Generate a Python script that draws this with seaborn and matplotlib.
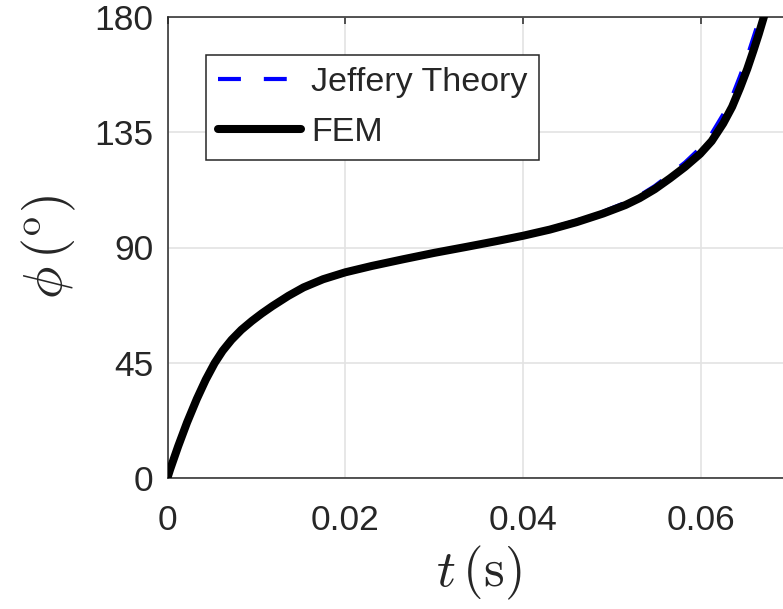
import matplotlib
matplotlib.use("Agg")
import matplotlib.pyplot as plt
import seaborn as sns
import pandas as pd

# ---- data ----
t_s = [0, 0.0003, 0.0012, 0.0022, 0.0033, 0.0043, 0.0053, 0.0062, 0.0072,
       0.0083, 0.0095, 0.0106, 0.0118, 0.0136, 0.0153, 0.0175, 0.0200,
       0.0230, 0.0265, 0.0300, 0.0337, 0.0370, 0.0400, 0.0430, 0.0460,
       0.0490, 0.0515, 0.0531, 0.0548, 0.0565, 0.0582, 0.0599, 0.0612,
       0.0625, 0.0635, 0.0644, 0.0652, 0.0659, 0.0665, 0.0671, 0.0677]
phi_fem = [0, 3.3, 12.3, 21.6, 30.8, 38.3, 44.8, 49.6, 53.9,
           57.8, 61.3, 64.2, 67.1, 71.1, 74.4, 77.6, 80.3,
           82.8, 85.4, 87.9, 90.3, 92.5, 94.6, 97.0, 99.9,
           103.3, 106.6, 109.3, 112.8, 117.0, 121.5, 126.6, 131.6,
           138.5, 145.0, 152.5, 159.8, 167.0, 173.5, 180.5, 187.0]
phi_jeffery = [0, 3.3, 12.3, 21.6, 30.8, 38.3, 44.8, 49.6, 53.9,
               57.8, 61.3, 64.2, 67.1, 71.1, 74.4, 77.6, 80.3,
               82.8, 85.4, 88.0, 90.5, 92.8, 95.0, 97.5, 100.5,
               104.0, 107.5, 110.3, 114.0, 118.5, 123.2, 128.8, 134.5,
               142.0, 149.0, 157.0, 164.5, 172.0, 178.5, 185.5, 192.0]
x_ticks = [0, 0.02, 0.04, 0.06]
x_tick_labels = ["0", "0.02", "0.04", "0.06"]
y_ticks = [0, 45, 90, 135, 180]
y_tick_labels = ["0", "45", "90", "135", "180"]
series_names = ["Jeffery Theory", "FEM"]

sns.set_style("white")
plt.rcParams["font.family"] = ["Liberation Sans", "DejaVu Sans"]
plt.rcParams["mathtext.fontset"] = "cm"

W, H = 783, 609
fig = plt.figure(figsize=(W / 100, H / 100), dpi=100)
left, bottom, top = 167.5, 477.7, 17.3
xmax = 0.07
px_per_unit = (701 - 167.5) / 0.06
right = left + xmax * px_per_unit
ax = fig.add_axes([left / W, 1 - bottom / H, (right - left) / W, (bottom - top) / H])

df_j = pd.DataFrame({"t": t_s, "phi": phi_jeffery})
df_f = pd.DataFrame({"t": t_s, "phi": phi_fem})

sns.lineplot(data=df_j, x="t", y="phi", ax=ax, color="#0000ff", lw=3.0,
             linestyle=(0, (5.5, 5.5)), label=series_names[0], sort=False,
             estimator=None, zorder=3)
sns.lineplot(data=df_f, x="t", y="phi", ax=ax, color="black", lw=5.8,
             label=series_names[1], sort=False, estimator=None, zorder=4)
for ln in ax.get_lines():
    ln.set_solid_joinstyle("round")
    ln.set_dash_joinstyle("round")

ax.set_xlim(0, xmax)
ax.set_ylim(0, 180)
ax.set_xticks(x_ticks)
ax.set_xticklabels(x_tick_labels)
ax.set_yticks(y_ticks)
ax.set_yticklabels(y_tick_labels)
ax.grid(True, color="#e3e3e3", lw=1.2)
ax.set_axisbelow(True)
for s in ax.spines.values():
    s.set_color("#262626")
    s.set_linewidth(1.1)
ax.tick_params(direction="in", length=5, width=1.1, color="#262626",
               labelsize=25.5, labelcolor="#262626", top=True, right=True)
ax.tick_params(axis="x", pad=19)
ax.tick_params(axis="y", pad=10)

ax.set_xlabel(r"$t\,(\mathrm{s})$", fontsize=38, labelpad=5)
ax.set_ylabel(r"$\phi\,(^{\mathrm{o}})$", fontsize=39, labelpad=12)

leg = ax.legend(loc="upper left", bbox_to_anchor=(205.7 / W, 1 - 55.0 / H),
                bbox_transform=fig.transFigure, fontsize=24.5, frameon=True,
                fancybox=False, framealpha=1, edgecolor="#262626",
                handlelength=2.45, handletextpad=0.3, borderpad=0.35,
                labelspacing=0.55, borderaxespad=0)
leg.get_frame().set_linewidth(1.1)

fig.savefig("out.png", dpi=100, facecolor="white")
